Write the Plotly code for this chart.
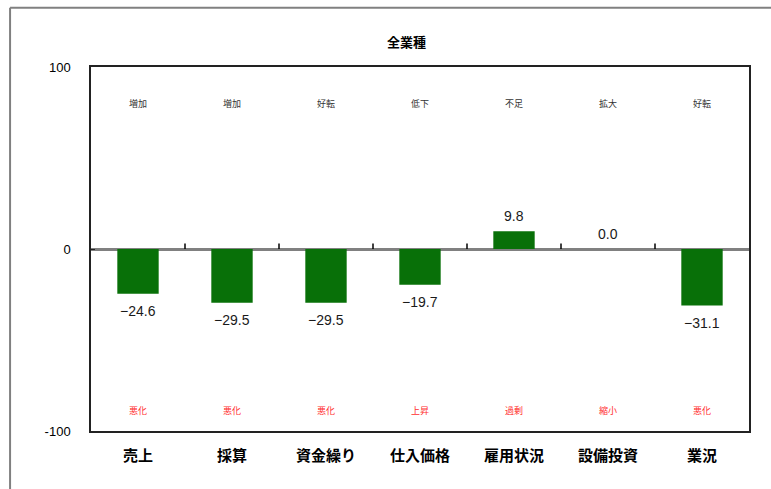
import plotly.graph_objects as go

categories = ["売上", "採算", "資金繰り", "仕入価格", "雇用状況", "設備投資", "業況"]
values = [-24.6, -29.5, -29.5, -19.7, 9.8, 0.0, -31.1]
top_labels = ["増加", "増加", "好転", "低下", "不足", "拡大", "好転"]
bottom_labels = ["悪化", "悪化", "悪化", "上昇", "過剰", "縮小", "悪化"]
title_text = "全業種"
y_ticks = [-100, 0, 100]

JP = "Noto Sans CJK JP"
NUM = "Liberation Sans, Arial"

fig = go.Figure()
fig.add_trace(go.Bar(
    x=list(range(len(categories))), y=values,
    marker=dict(color="#087008", line=dict(width=0)),
    width=0.44, hoverinfo="skip",
))

ann = []
for i, v in enumerate(values):
    shift = 15 if v >= 0 else -17
    ann.append(dict(x=i, y=v, xref="x", yref="y", text=f"{v:.1f}".replace("-", "−"),
                    showarrow=False, yshift=shift, yanchor="middle",
                    font=dict(family=NUM, size=14, color="#1a1a1a")))
    ann.append(dict(x=i, y=80, xref="x", yref="y", text=top_labels[i], showarrow=False,
                    font=dict(family=JP, size=9, color="#333333")))
    ann.append(dict(x=i, y=-89, xref="x", yref="y", text=bottom_labels[i], showarrow=False,
                    font=dict(family=JP, size=9, color="#ff3030")))

ann.append(dict(x=0.48, y=1.069, xref="paper", yref="paper", text=f"<b>{title_text}</b>",
                yanchor="middle", showarrow=False, font=dict(family=JP, size=13, color="#000000")))

shapes = []
for i in range(len(categories) - 1):
    shapes.append(dict(type="line", xref="x", yref="y", x0=i + 0.5, x1=i + 0.5, y0=0, y1=3,
                       line=dict(color="#000000", width=1.5)))
# outer frame
shapes.append(dict(type="line", xref="paper", yref="paper", x0=-0.123, x1=-0.123, y0=-0.2, y1=1.163,
                   line=dict(color="#808080", width=2)))
shapes.append(dict(type="line", xref="paper", yref="paper", x0=-0.123, x1=1.1, y0=1.163, y1=1.163,
                   line=dict(color="#808080", width=2)))

fig.update_layout(
    width=771, height=489,
    margin=dict(l=91, r=22, t=67, b=58),
    paper_bgcolor="white", plot_bgcolor="white",
    showlegend=False,
    annotations=ann, shapes=shapes,
    xaxis=dict(range=[-0.5, 6.5], tickmode="array", tickvals=list(range(len(categories))),
               ticktext=categories, showline=True, linecolor="#222222", linewidth=1.5, mirror=True,
               showgrid=False, zeroline=False, ticks="", ticklabelstandoff=10,
               tickfont=dict(family=JP, size=15, color="#000000", weight="bold")),
    yaxis=dict(range=[-100, 100], tickvals=y_ticks, ticktext=["-100", "0", "100"],
               showline=True, linecolor="#222222", linewidth=1.5, mirror=True,
               showgrid=False, zeroline=True, zerolinecolor="#808080", zerolinewidth=3,
               ticks="inside", ticklen=4, tickcolor="#222222", ticklabelstandoff=16,
               tickfont=dict(family=NUM, size=13, color="#000000")),
    bargap=0.56,
)

fig.write_html("out.html")
